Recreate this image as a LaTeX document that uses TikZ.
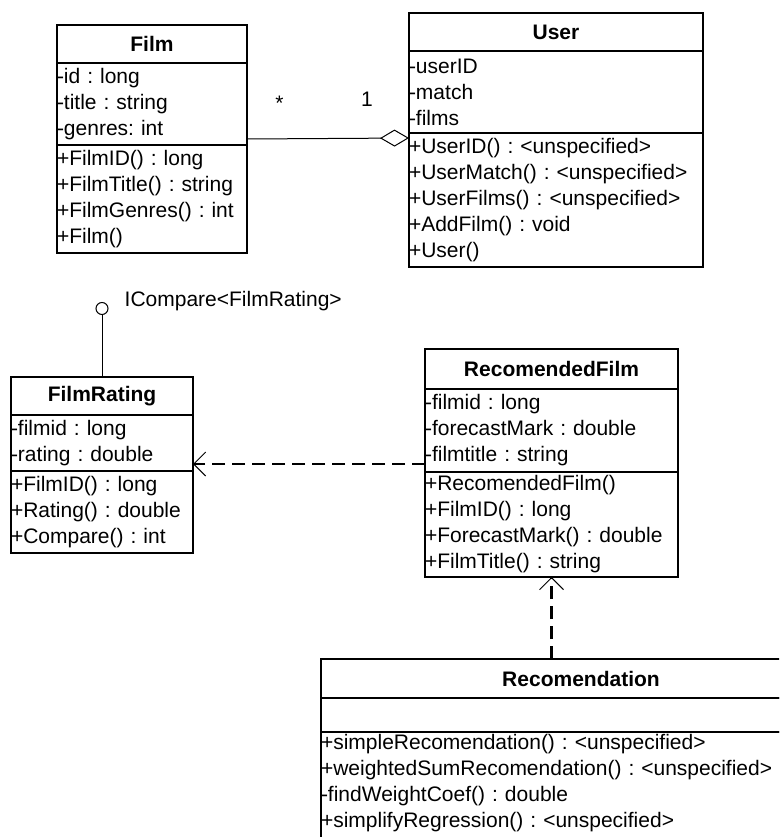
\documentclass[tikz,border=0pt]{standalone}
\usepackage{fontspec}
\setmainfont{Liberation Sans}
\usetikzlibrary{positioning, arrows.meta}
\frenchspacing
\newcommand{\umlfont}{\fontsize{21}{26}\selectfont}
\tikzset{
    classname/.style = {
        rectangle, draw, line width=1.2pt,
        font=\umlfont\bfseries,
        inner sep=0pt, outer sep=0pt,
        anchor=north west
    },
    members/.style = {
        rectangle, draw, line width=1.2pt,
        font=\umlfont, align=left,
        inner xsep=0pt, inner ysep=1pt, outer sep=0pt
    },
    assoc/.style = {
        line width=1pt,
        -{Diamond[open, length=29pt, width=17pt]}
    },
    depend/.style = {
        line width=2.5pt, dash pattern=on 13pt off 7pt,
        -{Straight Barb[length=12pt, width=24pt, line width=1pt]}
    },
    iface/.style = {
        circle, draw, line width=1pt,
        minimum size=12pt, inner sep=0pt
    },
    mult/.style = {
        font=\umlfont, inner sep=1pt
    }
}

\begin{document}
\begin{tikzpicture}[x=1pt, y=-1pt, node distance=0pt]
\useasboundingbox (0,0) rectangle (779,837);
\clip (0,0) rectangle (779,837);

% Film
\node (film) [classname, minimum width=190pt, minimum height=38pt] at (57,25) {Film};
\node (film-attr) [members, text width=190pt, minimum height=82pt, below=of film] {-id : long\\-title : string\\-genres: int};
\node (film-ops) [members, text width=190pt, minimum height=108pt, below=of film-attr] {+FilmID() : long\\+FilmTitle() : string\\+FilmGenres() : int\\+Film()};

% User
\node (user) [classname, minimum width=294pt, minimum height=38pt] at (409,13) {User};
\node (user-attr) [members, text width=294pt, minimum height=82pt, below=of user] {-userID\\-match\\-films};
\node (user-ops) [members, text width=294pt, minimum height=134pt, below=of user-attr] {+UserID() : <unspecified>\\+UserMatch() : <unspecified>\\+UserFilms() : <unspecified>\\+AddFilm() : void\\+User()};

% FilmRating
\node (rating) [classname, minimum width=182pt, minimum height=38pt] at (11,377) {FilmRating};
\node (rating-attr) [members, text width=182pt, minimum height=56pt, below=of rating] {-filmid : long\\-rating : double};
\node (rating-ops) [members, text width=182pt, minimum height=82pt, below=of rating-attr] {+FilmID() : long\\+Rating() : double\\+Compare() : int};

% RecomendedFilm
\node (recfilm) [classname, minimum width=253pt, minimum height=40pt] at (425,349) {RecomendedFilm};
\node (recfilm-attr) [members, text width=253pt, minimum height=83pt, below=of recfilm] {-filmid : long\\-forecastMark : double\\-filmtitle : string};
\node (recfilm-ops) [members, text width=253pt, minimum height=105pt, below=of recfilm-attr] {+RecomendedFilm()\\+FilmID() : long\\+ForecastMark() : double\\+FilmTitle() : string};

% Recomendation (runs off the page)
\node (rec) [classname, minimum width=520pt, minimum height=39pt] at (321,659) {Recomendation};
\node (rec-attr) [members, text width=520pt, minimum height=34pt, below=of rec] {};
\node (rec-ops) [members, text width=520pt, inner ysep=2pt, text depth=130pt, below=of rec-attr] {+simpleRecomendation() : <unspecified>\\+weightedSumRecomendation() : <unspecified>\\-findWeightCoef() : double\\+simplifyRegression() : <unspecified>};

% interface
\node (icompare) [iface, above=62pt of rating] {};
\node (icompare-label) [mult, right=15pt of icompare, yshift=7pt] {ICompare<FilmRating>};

\draw [line width=1pt] (rating) -- (icompare);
\draw [assoc] ([yshift=6pt]film-attr.south east) -- ([yshift=-5pt]user-ops.north west)
    node (many) [mult, pos=0.2, above=27pt] {*}
    node (one) [mult, pos=0.74, above=30pt] {1};
\draw [depend] ([yshift=8pt]recfilm-attr.south west) -- ([yshift=7pt]rating-attr.south east);
\draw [depend] (rec.north -| recfilm-ops.south) -- (recfilm-ops.south);

\end{tikzpicture}
\end{document}
